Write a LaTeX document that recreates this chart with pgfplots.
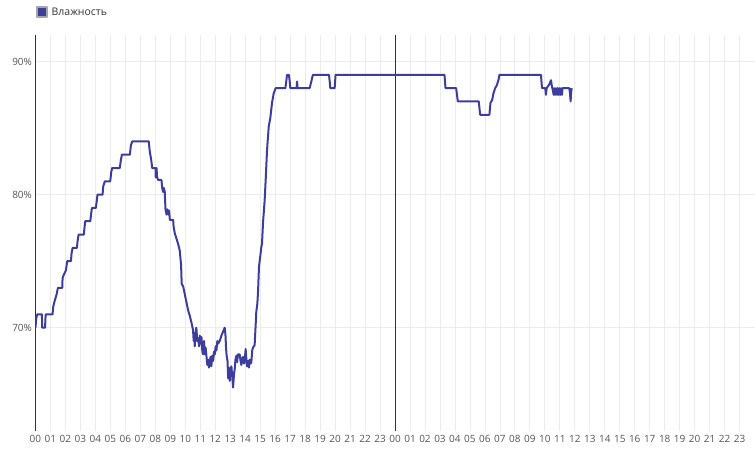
\documentclass[border=0pt]{standalone}
\usepackage{fontspec}
\setmainfont{Open Sans}
\usepackage{pgfplots}
\pgfplotsset{compat=1.18}
\definecolor{hum}{RGB}{61,61,158}
\definecolor{gridc}{RGB}{236,236,236}
\definecolor{tickc}{RGB}{85,85,85}
\begin{document}
\begin{tikzpicture}
\begin{axis}[
  scale only axis,
  width=720pt, height=397pt,
  xmin=0, xmax=48, ymin=62.2, ymax=92,
  axis lines=left,
  x axis line style={draw=none},
  y axis line style={-, draw=black!80, line width=0.8pt},
  major tick length=0pt,
  xtick={0,...,47},
  xticklabels={00,01,02,03,04,05,06,07,08,09,10,11,12,13,14,15,16,17,18,19,20,21,22,23,
               00,01,02,03,04,05,06,07,08,09,10,11,12,13,14,15,16,17,18,19,20,21,22,23},
  ytick={70,80,90},
  yticklabels={70\%,80\%,90\%},
  ticklabel style={font=\fontsize{10}{12}\selectfont, text=tickc},
  grid=major,
  grid style={draw=gridc, line width=0.8pt},
  extra x ticks={24},
  extra x tick labels={},
  extra x tick style={grid style={draw=black!80, line width=0.8pt}},
  legend style={at={(0,1)}, anchor=south west, draw=none, fill=none,
    inner sep=0pt, yshift=16pt, font=\fontsize{10.5}{12}\selectfont, text=black!80},
  legend image code/.code={\draw[draw=gray!70, fill=hum] (0pt,-5pt) rectangle (10pt,5pt);},
]
\addplot[hum, line width=2pt, line join=round] coordinates {
(0,70.0) (0.05,70.7) (0.12,71) (0.43,71) (0.45,70) (0.64,70) (0.68,71) (1.14,71)
(1.19,71.6) (1.28,72) (1.41,72.5) (1.50,73) (1.79,73) (1.81,73.75) (1.90,74) (2.03,74.3)
(2.12,75) (2.37,75) (2.41,75.6) (2.48,76) (2.77,76) (2.81,76.5) (2.88,77) (3.23,77)
(3.28,77.6) (3.32,78) (3.66,78) (3.72,78.6) (3.77,79) (4.03,79) (4.10,79.6) (4.14,80)
(4.48,80) (4.52,80.6) (4.63,81) (4.99,81) (5.06,81.7) (5.12,82) (5.63,82) (5.70,82.6)
(5.77,83) (6.30,83) (6.37,83.7) (6.46,84) (7.56,84) (7.63,83.25) (7.74,82.5) (7.79,82)
(8.01,82) (8.03,81.3) (8.08,82) (8.12,81.3) (8.19,81.1) (8.41,81.1) (8.46,80.5) (8.52,80.2)
(8.57,80.5) (8.63,80.2) (8.68,78.9) (8.75,78.5) (8.80,78.9) (8.86,78.5) (8.92,78.8) (8.97,78.1)
(9.19,78.1) (9.22,77.6) (9.30,77.1) (9.41,76.7) (9.52,76.3) (9.63,75.8) (9.72,74.7) (9.76,73.3)
(9.86,73.1) (9.97,72.5) (10.08,71.9) (10.19,71.3) (10.30,70.9) (10.41,70.4) (10.52,69.8)
(10.56,69.0) (10.60,69.6) (10.63,68.6) (10.68,69.5) (10.74,70.0) (10.80,69.0) (10.86,69.2)
(10.92,68.6) (10.97,69.4) (11.03,68.8) (11.08,69.3) (11.14,68.2) (11.19,68.0) (11.25,69.0)
(11.30,68.0) (11.36,68.5) (11.41,67.9) (11.47,67.2) (11.52,67.6) (11.58,67.0) (11.63,67.3)
(11.68,67.8) (11.74,67.1) (11.80,67.9) (11.86,67.5) (11.92,68.2) (11.97,68.0) (12.03,68.6)
(12.08,68.3) (12.14,69.0) (12.19,68.8) (12.30,69.0) (12.41,69.4) (12.52,69.7) (12.63,70.0)
(12.68,69.5) (12.72,68.5) (12.76,67.9) (12.82,67.5) (12.86,66.2) (12.92,67.0) (12.97,66.0)
(13.01,66.8) (13.08,67.1) (13.12,66.5) (13.19,65.5) (13.25,66.5) (13.30,66.9) (13.35,67.6)
(13.41,67.9) (13.46,67.4) (13.52,68.0) (13.63,68.0) (13.69,67.5) (13.74,67.2) (13.80,67.7)
(13.86,67.8) (13.92,67.3) (13.97,67.6) (14.03,68.4) (14.08,67.6) (14.12,67.1) (14.18,67.5)
(14.25,67.0) (14.30,67.6) (14.36,67.3) (14.41,67.4) (14.47,68.3) (14.52,68.5) (14.63,68.7)
(14.68,69.8) (14.74,71.2) (14.81,71.8) (14.86,72.8) (14.92,74.6) (15.03,75.6) (15.08,76.1)
(15.12,76.3) (15.19,77.9) (15.30,79.6) (15.37,81.2) (15.46,83.4) (15.57,85.1) (15.68,85.8)
(15.79,86.9) (15.90,87.6) (16.03,88.0)
(16.68,88) (16.75,88.6) (16.79,89) (16.92,89) (16.97,88.5) (17.01,88) (17.43,88) (17.46,88.5)
(17.50,88) (18.30,88) (18.41,88.5) (18.52,89) (19.59,89) (19.64,88.5) (19.68,88) (19.97,88)
(20.00,88.5) (20.03,89) (27.30,89) (27.37,88) (28.08,88) (28.19,87) (29.59,87) (29.68,86)
(30.30,86) (30.37,86.9) (30.48,87.1) (30.57,87.6) (30.68,88) (30.79,88.2) (30.90,88.6)
(30.97,89) (33.74,89) (33.81,88) (34.03,88) (34.07,87.5) (34.12,88) (34.30,88.3) (34.41,88.6)
(34.46,88.2) (34.52,87.9) (34.59,87.5) (34.62,88) (34.70,87.5) (34.74,88) (34.81,87.5)
(34.85,88) (34.92,87.5) (34.96,88) (35.03,87.5) (35.07,88) (35.14,87.5) (35.18,88)
(35.63,88) (35.68,87.6) (35.72,87) (35.75,87.6) (35.79,88)
};
\legend{\hspace{2pt}Влажность}
\end{axis}
\path (current axis.south west) ++(-35.5pt,-19pt) coordinate (bl);
\path (current axis.north east) ++(0pt,35pt) coordinate (tr);
\path (bl) rectangle (tr);
\end{tikzpicture}
\end{document}
